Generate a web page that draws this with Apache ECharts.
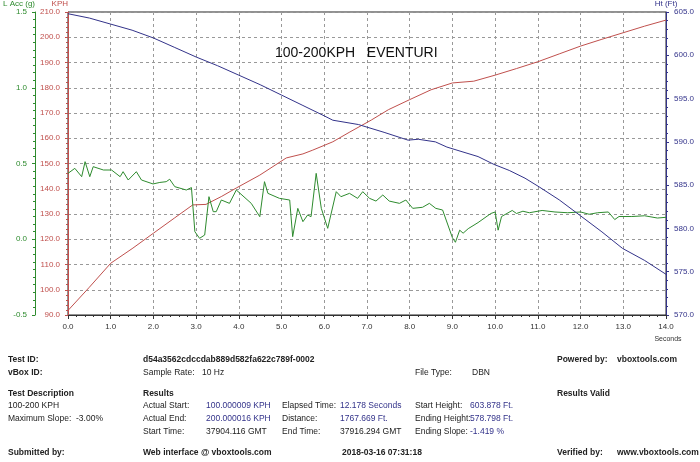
<!DOCTYPE html>
<html><head><meta charset="utf-8">
<script src="https://cdn.jsdelivr.net/npm/echarts@6/dist/echarts.min.js"></script>
<style>html,body{margin:0;padding:0;background:#fff}#c{width:700px;height:462px}</style>
</head><body><div id="c"></div>
<script>
// speed (KPH) vs time (s)
var speed = [[0,91.8],[0.5,101],[1,110.5],[1.52,116.5],[2,122.4],[2.5,128.5],[2.92,133.6],[3.23,133.8],[3.6,137],[3.94,140.3],[4.49,145.4],[5.11,152.2],[5.5,153.8],[5.73,155.3],[6.2,158.6],[6.6,162.5],[7.1,167.2],[7.5,171.3],[8,175.3],[8.5,179.2],[9,181.9],[9.5,182.6],[10,185],[10.5,187.6],[11,190.3],[11.5,193.4],[12,196.5],[12.5,199.2],[13,201.8],[13.5,204.4],[14,206.8]];
// height (ft)
var height = [[0,604.8],[0.5,604.3],[1,603.6],[1.5,602.9],[2,602.0],[2.5,600.9],[3,599.8],[3.5,598.8],[4,597.7],[4.5,596.6],[5,595.4],[5.5,594.2],[6,593.0],[6.2,592.5],[6.8,592.0],[7.4,591.1],[7.96,590.2],[8.2,590.3],[8.6,590.0],[8.87,589.4],[9.2,588.9],[9.6,588.3],[9.97,587.4],[10.33,586.7],[10.7,585.8],[11.03,584.8],[11.5,583.3],[11.96,581.6],[12.5,579.6],[12.98,577.7],[13.5,576.3],[14,574.7]];
// lateral acceleration (g)
var latAcc = [[0.0,0.435],[0.16,0.468],[0.32,0.413],[0.40,0.512],[0.51,0.413],[0.59,0.479],[0.83,0.457],[1.02,0.457],[1.22,0.413],[1.29,0.446],[1.41,0.391],[1.60,0.446],[1.72,0.391],[1.99,0.365],[2.15,0.375],[2.30,0.380],[2.38,0.396],[2.50,0.347],[2.77,0.325],[2.89,0.341],[2.97,0.050],[3.08,0.006],[3.20,0.028],[3.30,0.281],[3.40,0.182],[3.47,0.182],[3.59,0.259],[3.78,0.237],[3.94,0.325],[4.29,0.237],[4.49,0.149],[4.60,0.380],[4.68,0.303],[4.95,0.270],[5.19,0.259],[5.26,0.017],[5.38,0.204],[5.50,0.116],[5.61,0.160],[5.69,0.149],[5.81,0.435],[5.93,0.204],[6.08,0.072],[6.28,0.314],[6.39,0.281],[6.59,0.303],[6.78,0.270],[6.90,0.314],[7.06,0.270],[7.21,0.252],[7.37,0.292],[7.52,0.252],[7.76,0.237],[7.91,0.259],[8.07,0.204],[8.30,0.211],[8.46,0.237],[8.61,0.204],[8.77,0.193],[9.0,0.01],[9.07,-0.02],[9.17,0.06],[9.25,0.04],[9.37,0.07],[9.6,0.11],[9.9,0.17],[10.0,0.18],[10.07,0.06],[10.15,0.15],[10.4,0.19],[10.5,0.17],[10.65,0.185],[10.8,0.175],[11.1,0.19],[11.4,0.18],[11.7,0.175],[12.0,0.18],[12.2,0.165],[12.4,0.175],[12.65,0.18],[12.8,0.13],[12.9,0.15],[13.2,0.15],[13.5,0.155],[13.8,0.14],[14.0,0.145]];

var F = 'Liberation Sans';
var blue = '#33338a', red = '#c0504d', green = '#2e8b2e';

// footer text rows: [x, y, text, bold, colour]
var footer = [
  [8,360,'Test ID:',1],[143,360,'d54a3562cdccdab889d582fa622c789f-0002',1],[557,360,'Powered by:',1],[617,360,'vboxtools.com',1],
  [8,373,'vBox ID:',1],[143,373,'Sample Rate:'],[202,373,'10 Hz'],[415,373,'File Type:'],[472,373,'DBN'],
  [8,394,'Test Description',1],[143,394,'Results',1],[557,394,'Results Valid',1],
  [8,406,'100-200 KPH'],[143,406,'Actual Start:'],[206,406,'100.000009 KPH',0,blue],[282,406,'Elapsed Time:'],[340,406,'12.178 Seconds',0,blue],[415,406,'Start Height:'],[470,406,'603.878 Ft.',0,blue],
  [8,419,'Maximum Slope:  -3.00%'],[143,419,'Actual End:'],[206,419,'200.000016 KPH',0,blue],[282,419,'Distance:'],[340,419,'1767.669 Ft.',0,blue],[415,419,'Ending Height:'],[470,419,'578.798 Ft.',0,blue],
  [143,432,'Start Time:'],[206,432,'37904.116 GMT'],[282,432,'End Time:'],[340,432,'37916.294 GMT'],[415,432,'Ending Slope:'],[470,432,'-1.419 %',0,blue],
  [8,453,'Submitted by:',1],[143,453,'Web interface @ vboxtools.com',1],[342,453,'2018-03-16 07:31:18',1],[557,453,'Verified by:',1],[617,453,'www.vboxtools.com',1]
];

var chart = echarts.init(document.getElementById('c'));
var dashed = {show:true, lineStyle:{type:[3,3], color:'#999'}};
chart.setOption({
  backgroundColor:'#fff',
  animation:false,
  title:{text:'100-200KPH   EVENTURI', left:270, top:41, textStyle:{fontFamily:F, fontSize:14, fontWeight:'normal', color:'#111'}},
  grid:{left:68, right:34, top:12, bottom:147, show:true, borderColor:'#222', borderWidth:1, backgroundColor:'transparent'},
  xAxis:{type:'value', min:0, max:14, interval:1,
    axisLine:{onZero:false, lineStyle:{color:'#333'}}, axisTick:{length:4}, minorTick:{show:true, splitNumber:5, length:2},
    axisLabel:{fontFamily:F, fontSize:8, color:'#333', formatter:function(v){return v.toFixed(1);}},
    splitLine:dashed},
  yAxis:[
    {type:'value', min:90, max:210, interval:10, position:'left',
     name:'KPH', nameGap:3, nameTextStyle:{fontFamily:F, fontSize:8, color:red, align:'right'},
     axisLine:{show:true, lineStyle:{color:red}}, axisTick:{show:true, length:3}, minorTick:{show:true, splitNumber:5, length:2},
     axisLabel:{fontFamily:F, fontSize:8, color:red, formatter:function(v){return v.toFixed(1);}},
     splitLine:dashed},
    {type:'value', min:-0.5, max:1.5, interval:0.5, position:'left', offset:33,
     name:'L Acc (g)', nameGap:3, nameTextStyle:{fontFamily:F, fontSize:8, color:green, align:'right'},
     axisLine:{show:true, lineStyle:{color:green}}, axisTick:{show:true, length:3}, minorTick:{show:true, splitNumber:10, length:2},
     axisLabel:{fontFamily:F, fontSize:8, color:green, formatter:function(v){return v.toFixed(1);}},
     splitLine:{show:false}},
    {type:'value', min:570, max:605, interval:5, position:'right',
     name:'Ht (Ft)', nameGap:3, nameTextStyle:{fontFamily:F, fontSize:8, color:blue},
     axisLine:{show:true, lineStyle:{color:blue}}, axisTick:{show:true, length:3}, minorTick:{show:true, splitNumber:5, length:2},
     axisLabel:{fontFamily:F, fontSize:8, color:blue, formatter:function(v){return v.toFixed(1);}},
     splitLine:{show:false}}
  ],
  series:[
    {type:'line', yAxisIndex:0, data:speed, showSymbol:false, lineStyle:{color:red, width:1}},
    {type:'line', yAxisIndex:1, data:latAcc, showSymbol:false, lineStyle:{color:green, width:1}},
    {type:'line', yAxisIndex:2, data:height, showSymbol:false, lineStyle:{color:blue, width:1}}
  ],
  graphic:[{type:'text', x:668, y:339, style:{text:'Seconds', fontFamily:F, fontSize:7, fill:'#333', align:'center', verticalAlign:'middle'}}].concat(
    footer.map(function(r){
      return {type:'text', x:r[0], y:r[1], style:{text:r[2], fontFamily:F, fontSize:8.5,
        fontWeight:r[3]?'bold':'normal', fill:r[4]||'#222', verticalAlign:'middle'}};
    }))
});
</script></body></html>
